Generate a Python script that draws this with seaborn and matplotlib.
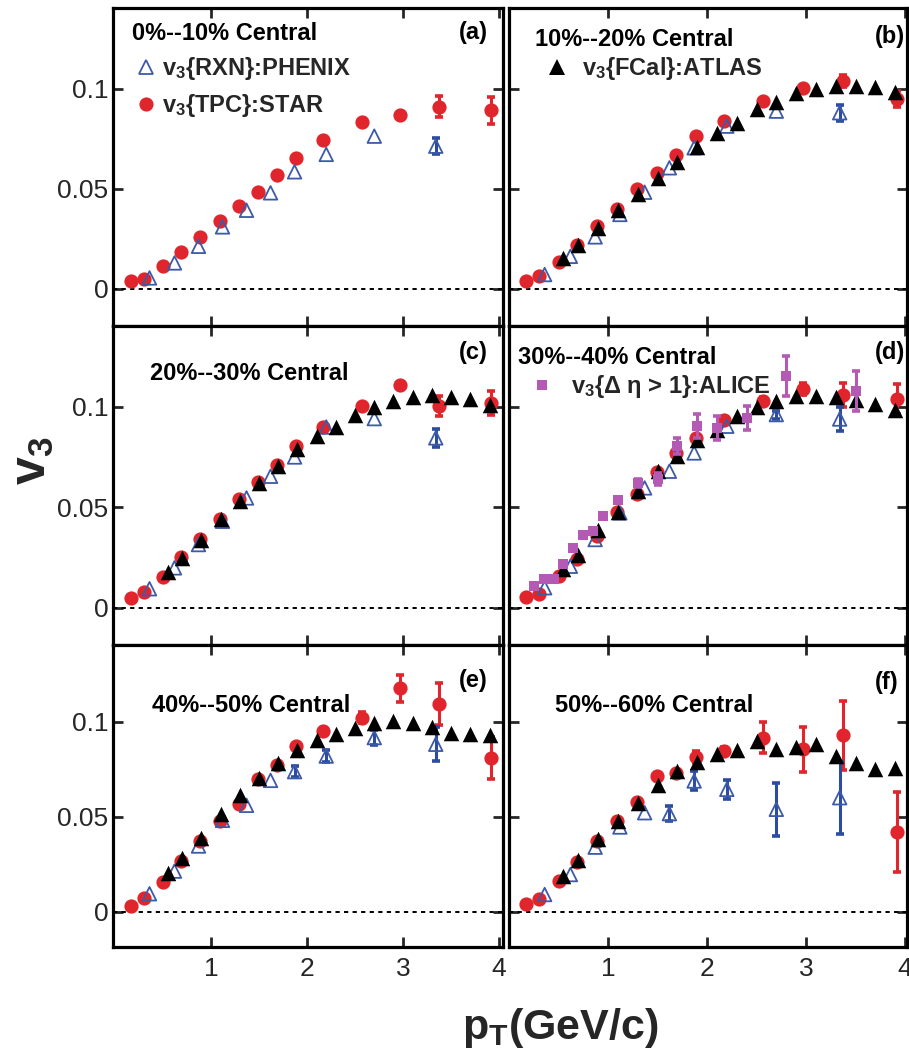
import matplotlib
matplotlib.use("Agg")
import matplotlib.pyplot as plt
import seaborn as sns
import numpy as np
from matplotlib.lines import Line2D
from matplotlib.font_manager import FontProperties

# ---------------- data ----------------
panel_tags = ["(a)", "(b)", "(c)", "(d)", "(e)", "(f)"]
centralities = ["0%--10% Central", "10%--20% Central", "20%--30% Central",
                "30%--40% Central", "40%--50% Central", "50%--60% Central"]
x_ticks = [1, 2, 3, 4]
y_ticks = [0, 0.05, 0.1]
y_ticklabels = ["0", "0.05", "0.1"]

# STAR v3{TPC}
star_pt = [0.17, 0.30, 0.50, 0.69, 0.89, 1.09, 1.29, 1.49, 1.69, 1.89, 2.17, 2.57, 2.97, 3.37, 3.92]
star_a = [0.0038, 0.0050, 0.0117, 0.0185, 0.0260, 0.0338, 0.0413, 0.0485, 0.0568, 0.0652, 0.0742, 0.0833, 0.0867, 0.0910, 0.0892]
star_a_err = [0, 0, 0, 0, 0, 0, 0, 0, 0, 0, 0, 0, 0, 0.0053, 0.0066]
star_b = [0.0038, 0.0067, 0.0135, 0.0220, 0.0313, 0.0400, 0.0500, 0.0580, 0.0670, 0.0763, 0.0838, 0.0940, 0.1005, 0.1038, 0.0947]
star_b_err = [0, 0, 0, 0, 0, 0, 0, 0, 0, 0, 0, 0, 0, 0.0030, 0.0040]
star_c = [0.0050, 0.0080, 0.0154, 0.0252, 0.0345, 0.0444, 0.0544, 0.0627, 0.0713, 0.0808, 0.0900, 0.1003, 0.1111, 0.1003, 0.1020]
star_c_err = [0, 0, 0, 0, 0, 0, 0, 0, 0, 0, 0, 0, 0, 0.0050, 0.0060]
star_d = [0.0053, 0.0070, 0.0158, 0.0245, 0.0357, 0.0478, 0.0569, 0.0675, 0.0771, 0.0846, 0.0934, 0.1028, 0.1090, 0.1061, 0.1041]
star_d_err = [0, 0, 0, 0, 0, 0, 0, 0, 0, 0, 0, 0.0020, 0.0030, 0.0060, 0.0075]
star_e = [0.0033, 0.0074, 0.0158, 0.0267, 0.0372, 0.0477, 0.0565, 0.0700, 0.0772, 0.0872, 0.0951, 0.1021, 0.1175, 0.1091, 0.0810]
star_e_err = [0, 0, 0, 0, 0, 0, 0, 0, 0, 0, 0, 0.0030, 0.0070, 0.0110, 0.0110]
star_f = [0.0039, 0.0070, 0.0161, 0.0261, 0.0372, 0.0477, 0.0577, 0.0714, 0.0728, 0.0814, 0.0846, 0.0916, 0.0854, 0.0928, 0.0419]
star_f_err = [0, 0, 0, 0, 0, 0, 0, 0, 0, 0.0030, 0.0020, 0.0080, 0.0120, 0.0180, 0.0210]

# ATLAS v3{FCal}
atlas_pt = [0.55, 0.70, 0.90, 1.10, 1.30, 1.50, 1.70, 1.90, 2.10, 2.30, 2.50, 2.70, 2.90, 3.10, 3.30, 3.50, 3.70, 3.90]
atlas_b = [0.0155, 0.0217, 0.0305, 0.0393, 0.0475, 0.0555, 0.0635, 0.0708, 0.0777, 0.0827, 0.0897, 0.0933, 0.0977, 0.1000, 0.1013, 0.1013, 0.1010, 0.0983]
atlas_c = [0.0179, 0.0249, 0.0340, 0.0440, 0.0530, 0.0619, 0.0705, 0.0791, 0.0854, 0.0900, 0.0962, 0.1000, 0.1028, 0.1050, 0.1061, 0.1050, 0.1041, 0.1012]
atlas_d = [0.0194, 0.0265, 0.0386, 0.0478, 0.0580, 0.0680, 0.0758, 0.0837, 0.0887, 0.0954, 0.1000, 0.1028, 0.1053, 0.1053, 0.1050, 0.1036, 0.1015, 0.0987]
atlas_e = [0.0205, 0.0284, 0.0390, 0.0516, 0.0614, 0.0705, 0.0784, 0.0849, 0.0902, 0.0933, 0.0968, 0.0995, 0.1004, 0.0995, 0.0972, 0.0942, 0.0933, 0.0928]
atlas_f = [0.0188, 0.0275, 0.0381, 0.0477, 0.0574, 0.0667, 0.0740, 0.0788, 0.0828, 0.0849, 0.0898, 0.0854, 0.0867, 0.0881, 0.0819, 0.0784, 0.0749, 0.0758]

# PHENIX v3{RXN}
phenix_pt = [0.36, 0.62, 0.87, 1.12, 1.37, 1.62, 1.87, 2.20, 2.70, 3.34]
phenix_a = [0.0055, 0.0130, 0.0213, 0.0310, 0.0393, 0.0480, 0.0585, 0.0672, 0.0763, 0.0713]
phenix_a_err = [0, 0, 0, 0, 0, 0, 0, 0, 0, 0.0040]
phenix_b = [0.0072, 0.0163, 0.0260, 0.0372, 0.0483, 0.0605, 0.0705, 0.0813, 0.0888, 0.0880]
phenix_b_err = [0, 0, 0, 0, 0, 0, 0, 0, 0, 0.0040]
phenix_c = [0.0095, 0.0199, 0.0315, 0.0431, 0.0547, 0.0655, 0.0751, 0.0900, 0.0942, 0.0846]
phenix_c_err = [0, 0, 0, 0, 0, 0, 0, 0, 0, 0.0045]
phenix_d = [0.0100, 0.0207, 0.0340, 0.0473, 0.0597, 0.0680, 0.0771, 0.0904, 0.0962, 0.0940]
phenix_d_err = [0, 0, 0, 0, 0, 0, 0, 0, 0.0020, 0.0060]
phenix_e = [0.0095, 0.0214, 0.0346, 0.0481, 0.0560, 0.0691, 0.0737, 0.0819, 0.0916, 0.0881]
phenix_e_err = [0, 0, 0, 0, 0, 0, 0.0030, 0.0030, 0.0040, 0.0090]
phenix_f = [0.0091, 0.0196, 0.0340, 0.0446, 0.0521, 0.0516, 0.0688, 0.0644, 0.0539, 0.0600]
phenix_f_err = [0, 0, 0, 0, 0, 0.0040, 0.0050, 0.0050, 0.0140, 0.0190]

# ALICE v3{Delta eta > 1} (30-40% only)
alice_pt = [0.25, 0.35, 0.45, 0.55, 0.65, 0.75, 0.85, 0.95, 1.10, 1.30, 1.50, 1.70, 1.90, 2.10, 2.40, 2.80, 3.50]
alice_d = [0.0108, 0.0146, 0.0146, 0.0216, 0.0299, 0.0365, 0.0381, 0.0456, 0.0539, 0.0622, 0.0640, 0.0804, 0.0904, 0.0896, 0.0945, 0.1153, 0.1080]
alice_d_err = [0, 0, 0, 0, 0, 0, 0, 0, 0, 0.0020, 0.0030, 0.0040, 0.0060, 0.0060, 0.0060, 0.0100, 0.0100]

# ---------------- styling ----------------
sns.set_style("ticks")
plt.rcParams["font.family"] = ["Liberation Sans", "DejaVu Sans"]
plt.rcParams["mathtext.fontset"] = "custom"
plt.rcParams["mathtext.rm"] = "Liberation Sans"
plt.rcParams["mathtext.bf"] = "Liberation Sans:bold"
plt.rcParams["mathtext.it"] = "Liberation Sans:italic"

RED = "#e0262c"
BLUE = "#3d5aa8"
BLUE_ERR = "#2c4c9f"
PURPLE = "#b45ab4"
BLACK = "#000000"

W, H = 909, 1055
fig = plt.figure(figsize=(W / 100, H / 100), dpi=100)

col_px = [(113, 503), (509, 907)]
col_xlim = [(-0.02, 4.04), (0.0, 4.02)]
row_px = [(8, 326), (326, 645), (645, 947)]
ylim = (-0.0185, 0.1403)

star_sets = [(star_a, star_a_err), (star_b, star_b_err), (star_c, star_c_err),
             (star_d, star_d_err), (star_e, star_e_err), (star_f, star_f_err)]
phenix_sets = [(phenix_a, phenix_a_err), (phenix_b, phenix_b_err), (phenix_c, phenix_c_err),
               (phenix_d, phenix_d_err), (phenix_e, phenix_e_err), (phenix_f, phenix_f_err)]
atlas_sets = [None, atlas_b, atlas_c, atlas_d, atlas_e, atlas_f]


def errbars(ax, x, y, e, color, z):
    x = np.asarray(x); y = np.asarray(y); e = np.asarray(e)
    m = e > 0
    if m.any():
        ax.errorbar(x[m], y[m], yerr=e[m], fmt="none", ecolor=color,
                    elinewidth=2.2, capsize=2.6, capthick=2.6, zorder=z)


axes = []
for i in range(6):
    r, c = divmod(i, 2)
    x0, x1 = col_px[c]
    ytop, ybot = row_px[r]
    ax = fig.add_axes([x0 / W, 1 - ybot / H, (x1 - x0) / W, (ybot - ytop) / H])
    axes.append(ax)
    ax.set_xlim(*col_xlim[c])
    ax.set_ylim(*ylim)
    ax.axhline(0, color="black", lw=1.4, ls=(0, (2.2, 2.2)), zorder=1)

    # STAR
    sy, se = star_sets[i]
    errbars(ax, star_pt, sy, se, RED, 2)
    sns.scatterplot(x=star_pt, y=sy, ax=ax, marker="o", s=105, color=RED,
                    linewidth=0, zorder=3, legend=False)
    # PHENIX (open triangles)
    py, pe = phenix_sets[i]
    errbars(ax, phenix_pt, py, pe, BLUE_ERR, 4)
    sns.scatterplot(x=phenix_pt, y=py, ax=ax, marker="^", s=95, color=BLUE,
                    zorder=5, legend=False)
    coll = ax.collections[-1]
    coll.set_facecolor("none")
    coll.set_edgecolor(BLUE)
    coll.set_linewidth(1.3)
    # ATLAS
    if atlas_sets[i] is not None:
        sns.scatterplot(x=atlas_pt, y=atlas_sets[i], ax=ax, marker="^", s=125,
                        color=BLACK, linewidth=0, zorder=6, legend=False)
    # ALICE
    if i == 3:
        errbars(ax, alice_pt, alice_d, alice_d_err, PURPLE, 7)
        sns.scatterplot(x=alice_pt, y=alice_d, ax=ax, marker="s", s=55,
                        color=PURPLE, linewidth=0, zorder=8, legend=False)

    ax.set_xticks(x_ticks)
    ax.set_yticks(y_ticks)
    ax.set_xlabel("")
    ax.set_ylabel("")
    if c == 0:
        ax.set_yticklabels(y_ticklabels)
    else:
        ax.set_yticklabels([])
    if r == 2:
        ax.set_xticklabels([str(t) for t in x_ticks])
    else:
        ax.set_xticklabels([])
    ax.tick_params(direction="in", length=7.5, width=2.0, top=True, right=True,
                   labelsize=19, pad=5)
    ax.tick_params(axis="x", pad=7)
    ax.tick_params(axis="y", pad=3.5)
    for sp in ax.spines.values():
        sp.set_visible(True)
        sp.set_linewidth(2.3)
        sp.set_color("black")

# ---------------- panel texts ----------------
bold17 = dict(fontsize=17, fontweight="bold", color="black")
title_pos = [(132, 33), (535, 40), (150, 373), (518, 357), (152, 705), (555, 705)]
tag_pos = [(488, 33), (905, 36), (488, 353), (905, 353), (488, 680), (898, 682)]
for i in range(6):
    tx, ty = title_pos[i]
    fig.text(tx / W, 1 - ty / H, centralities[i], ha="left", va="center", **bold17)
    gx, gy = tag_pos[i]
    fig.text(gx / W, 1 - gy / H, panel_tags[i], ha="right", va="center", **bold17)

# legends
lp = FontProperties(family="Liberation Sans", weight="bold", size=17)
h_phenix = Line2D([], [], marker="^", ls="none", mfc="none", mec=BLUE, ms=9.7, mew=1.3)
h_star = Line2D([], [], marker="o", ls="none", mfc=RED, mec=RED, ms=10.2, mew=0)
h_atlas = Line2D([], [], marker="^", ls="none", mfc=BLACK, mec=BLACK, ms=11.2, mew=0)
h_alice = Line2D([], [], marker="s", ls="none", mfc=PURPLE, mec=PURPLE, ms=7.4, mew=0)

def put_legend(ax, handles, labels, left_px, top_px, pad, spacing=0.3):
    ax.legend(handles, labels, loc="upper left",
              bbox_to_anchor=(left_px / W, 1 - top_px / H),
              bbox_transform=fig.transFigure, frameon=False, borderpad=0,
              borderaxespad=0, handlelength=0.8, handletextpad=pad,
              labelspacing=spacing, prop=lp)

put_legend(axes[0], [h_phenix, h_star],
           [r"v$_\mathbf{3}${RXN}:PHENIX", r"v$_\mathbf{3}${TPC}:STAR"], 137, 55, 0.28, 0.42)
put_legend(axes[1], [h_atlas], [r"v$_\mathbf{3}${FCal}:ATLAS"], 548, 55, 0.66)
put_legend(axes[3], [h_alice], [r"v$_\mathbf{3}${Δ η > 1}:ALICE"], 533, 373, 0.83)

# axis titles
fig.text(33 / W, 1 - 461 / H, r"v$_\mathbf{3}$", rotation=90, fontsize=36,
         fontweight="bold", ha="center", va="center")
fig.text(560 / W, 1 - 1028 / H, r"p$_\mathbf{T}$(GeV/c)", fontsize=31,
         fontweight="bold", ha="center", va="center")

fig.savefig("out.png", dpi=100)
